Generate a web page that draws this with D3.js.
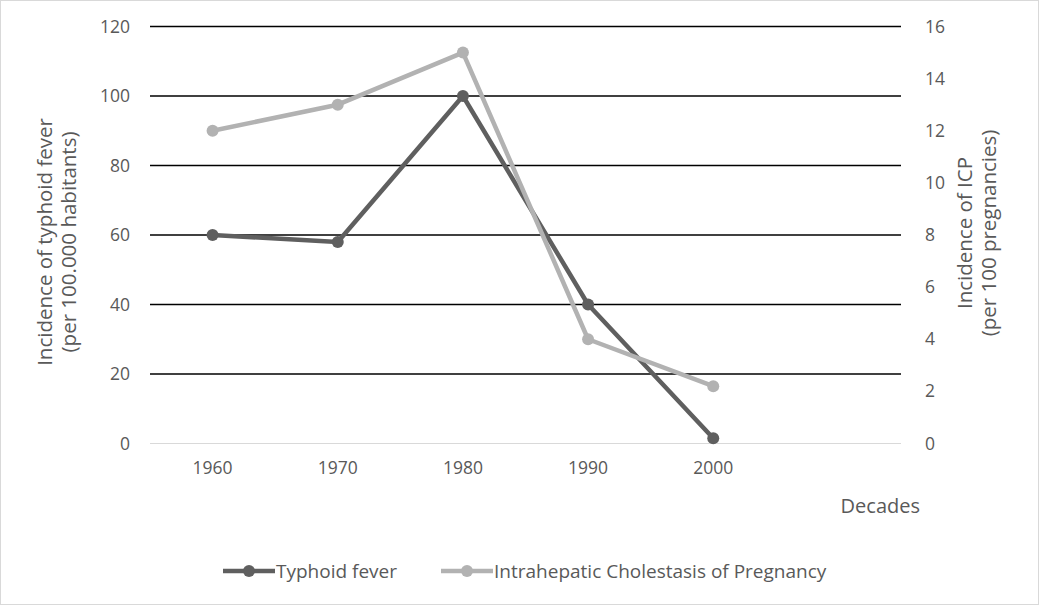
<!DOCTYPE html>
<html>
<head>
<meta charset="utf-8">
<script src="https://cdn.jsdelivr.net/npm/d3@7"></script>
<style>
  body { margin: 0; background: #fff; }
  text { font-family: "Open Sans", sans-serif; fill: #595959; }
</style>
</head>
<body>
<div id="chart"></div>
<script>
// data
var decades = ["1960", "1970", "1980", "1990", "2000", ""];
var typhoid = [60, 58, 100, 40, 1.5];
var icp = [12, 13, 15, 4, 2.2];
var leftTicks = [0, 20, 40, 60, 80, 100, 120];
var rightTicks = [0, 2, 4, 6, 8, 10, 12, 14, 16];

var W = 1040, H = 606;
var margin = {top: 26.5, right: 139, bottom: 162.5, left: 150};
var width = W - margin.left - margin.right,
    height = H - margin.top - margin.bottom;

var svg = d3.select("#chart")
  .append("svg")
    .attr("width", W)
    .attr("height", H);

// outer border
svg.append("rect")
  .attr("x", 0.5).attr("y", 0.5)
  .attr("width", W - 2).attr("height", H - 2)
  .attr("fill", "#fff")
  .attr("stroke", "#d9d9d9");

var g = svg.append("g")
  .attr("transform", "translate(" + margin.left + "," + margin.top + ")");

var x = d3.scaleBand().domain(decades).range([0, width]);
var yL = d3.scaleLinear().domain([0, 120]).range([height, 0]);
var yR = d3.scaleLinear().domain([0, 16]).range([height, 0]);

// gridlines
g.selectAll(".grid")
  .data(leftTicks)
  .join("line")
  .attr("x1", 0).attr("x2", width)
  .attr("y1", d => yL(d)).attr("y2", d => yL(d))
  .attr("stroke", d => d === 0 ? "#d9d9d9" : "#000")
  .attr("stroke-width", d => d === 0 ? 1 : 1.3);

// left axis
var axL = g.append("g")
  .call(d3.axisLeft(yL).tickValues(leftTicks).tickSize(0).tickPadding(20));
axL.select(".domain").remove();
axL.selectAll("text").style("font-size", "17.5px").attr("fill", "#595959");

// right axis
var axR = g.append("g")
  .attr("transform", "translate(" + width + ",0)")
  .call(d3.axisRight(yR).tickValues(rightTicks).tickSize(0).tickPadding(24));
axR.select(".domain").remove();
axR.selectAll("text").style("font-size", "17.5px").attr("fill", "#595959");

// bottom axis
var axB = g.append("g")
  .attr("transform", "translate(0," + height + ")")
  .call(d3.axisBottom(x).tickSize(0).tickPadding(18));
axB.select(".domain").remove();
axB.selectAll("text").style("font-size", "17.5px").attr("fill", "#595959");

// axis titles
var tl = svg.append("text")
  .attr("transform", "translate(52,242) rotate(-90)")
  .attr("text-anchor", "middle")
  .style("font-size", "20.5px");
tl.append("tspan").attr("x", 0).attr("dy", "0").text("Incidence of typhoid fever");
tl.append("tspan").attr("x", 0).attr("dy", "1.15em").text("(per 100.000 habitants)");

var tr = svg.append("text")
  .attr("transform", "translate(972,233) rotate(-90)")
  .attr("text-anchor", "middle")
  .style("font-size", "20.5px");
tr.append("tspan").attr("x", 0).attr("dy", "0").text("Incidence of ICP");
tr.append("tspan").attr("x", 0).attr("dy", "1.15em").text("(per 100 pregnancies)");

svg.append("text")
  .attr("x", 920).attr("y", 513)
  .attr("text-anchor", "end")
  .style("font-size", "20px")
  .text("Decades");

// series
var series = [
  {name: "Typhoid fever", values: typhoid, y: yL, color: "#5f5f5f"},
  {name: "Intrahepatic Cholestasis of Pregnancy", values: icp, y: yR, color: "#b2b2b2"}
];
var cx = i => x(decades[i]) + x.bandwidth() / 2;

series.forEach(function(s) {
  var line = d3.line()
    .x((d, i) => cx(i))
    .y(d => s.y(d));
  g.append("path")
    .datum(s.values)
    .attr("fill", "none")
    .attr("stroke", s.color)
    .attr("stroke-width", 4.5)
    .attr("stroke-linejoin", "round")
    .attr("d", line);
  g.selectAll(null)
    .data(s.values)
    .join("circle")
    .attr("cx", (d, i) => cx(i))
    .attr("cy", d => s.y(d))
    .attr("r", 6)
    .attr("fill", s.color);
});

// legend
var legendPos = [223, 441];
series.forEach(function(s, i) {
  var lg = svg.append("g").attr("transform", "translate(" + legendPos[i] + ",571)");
  lg.append("line")
    .attr("x1", 0).attr("x2", 52)
    .attr("stroke", s.color).attr("stroke-width", 4.5);
  lg.append("circle").attr("cx", 26).attr("r", 6).attr("fill", s.color);
  lg.append("text")
    .attr("x", 53).attr("dy", "0.35em")
    .style("font-size", "19px")
    .text(s.name);
});
</script>
</body>
</html>
